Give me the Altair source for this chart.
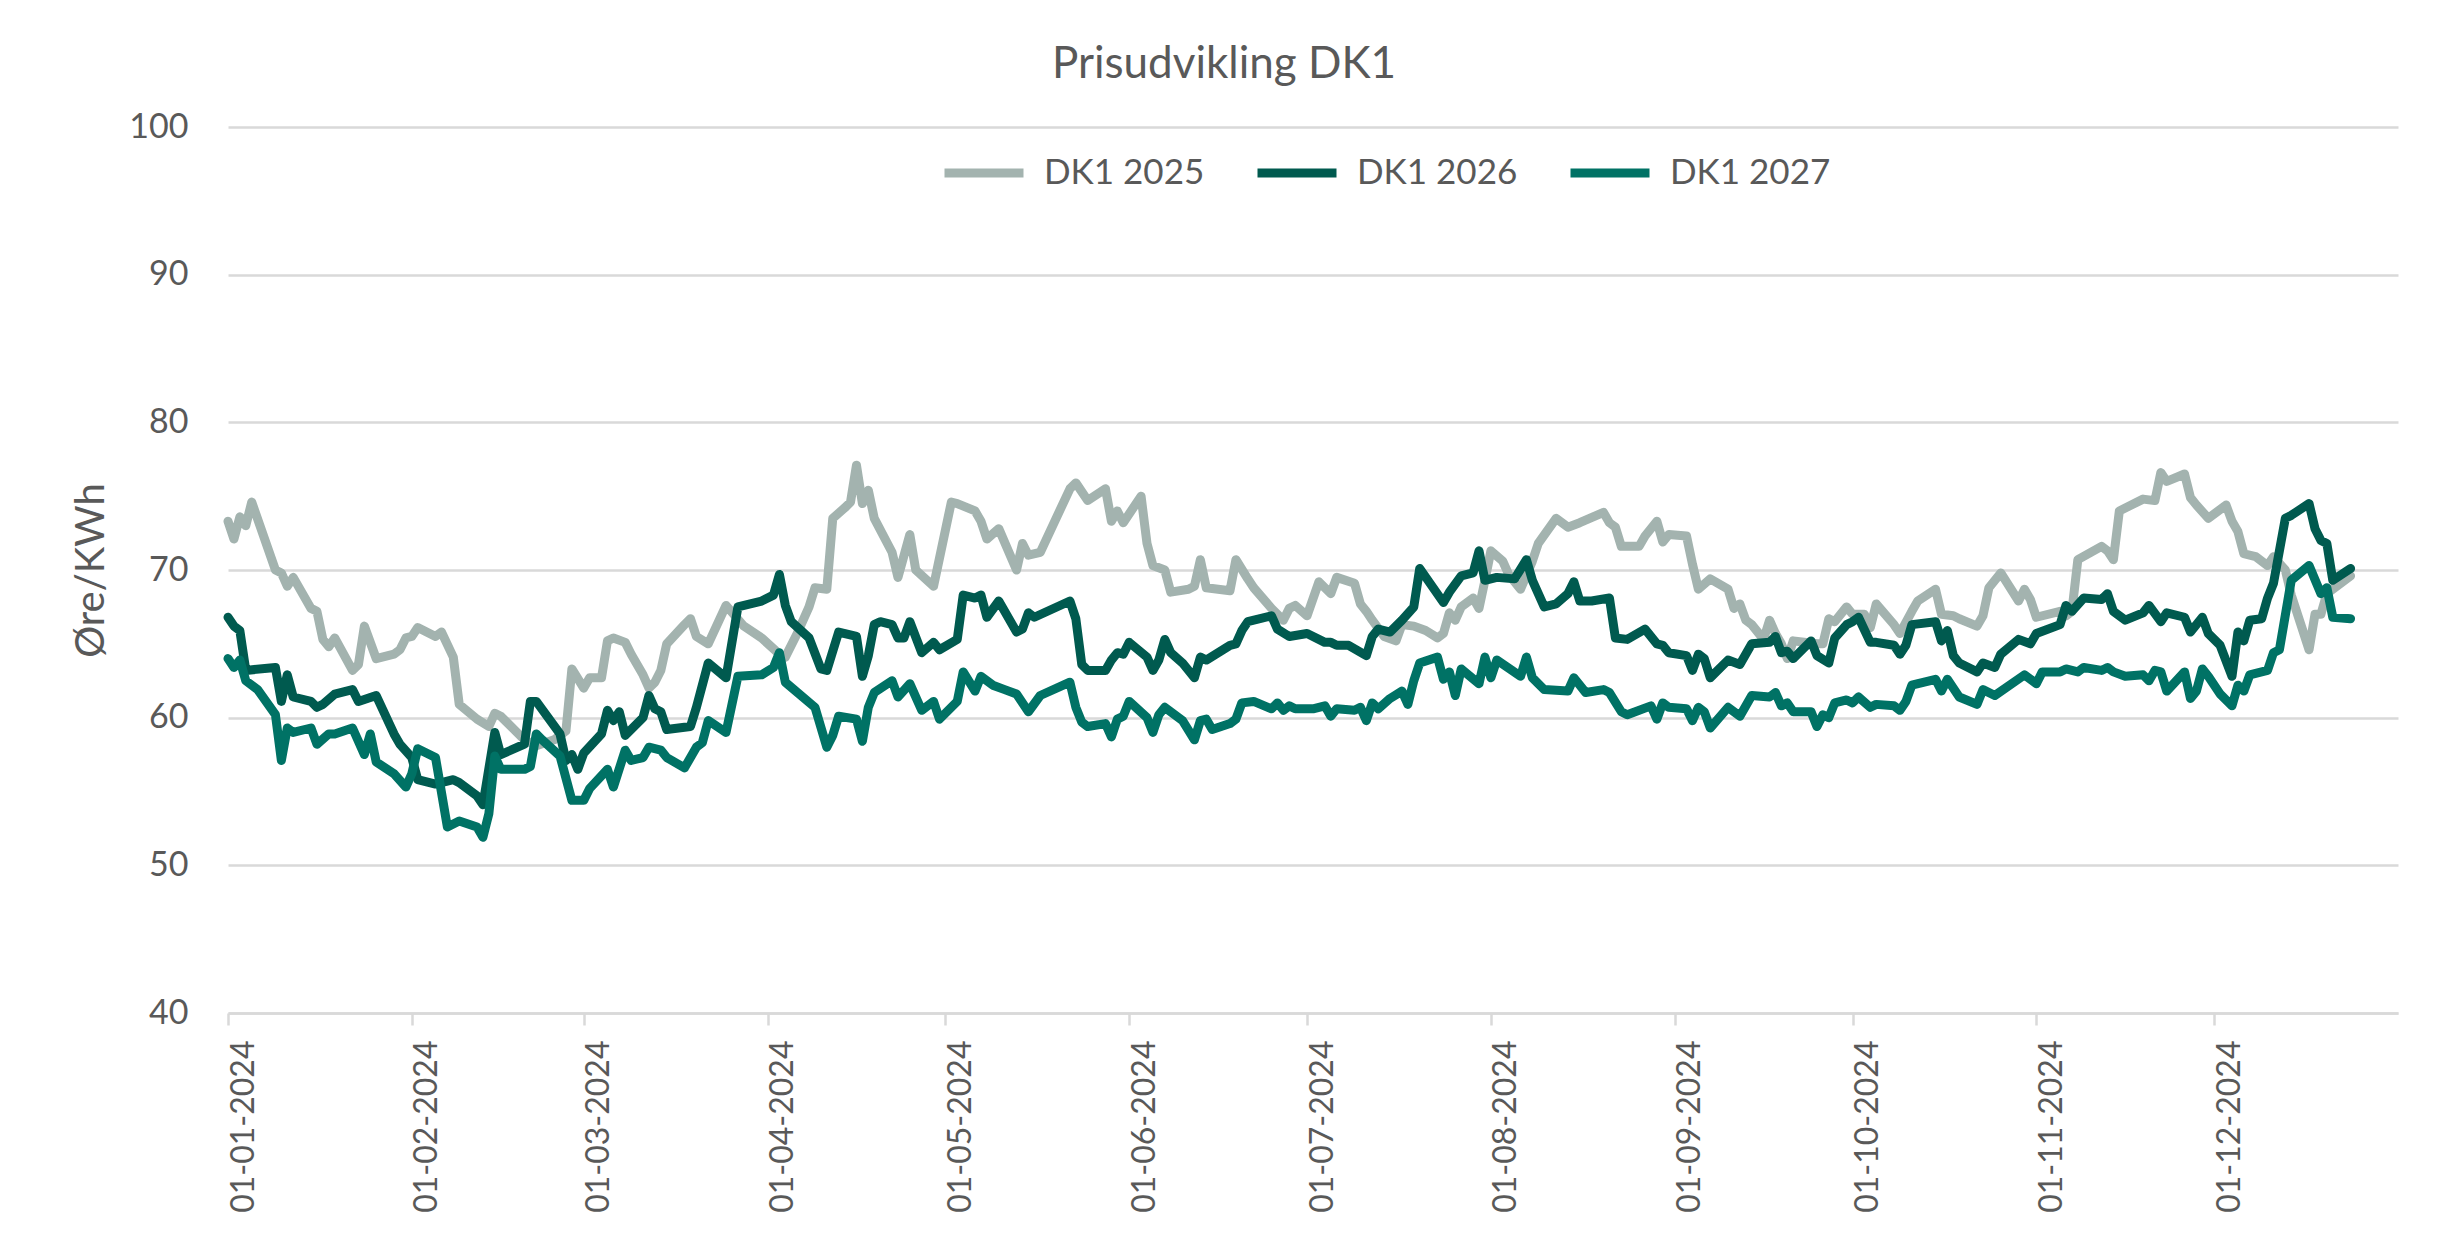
import altair as alt
import pandas as pd

# ---- data (day offset from 2024-01-01, price in øre/kWh) ----
names = ["DK1 2025", "DK1 2026", "DK1 2027"]
colors = ["#a3b3af", "#005a4f", "#007265"]

d25 = [0,1,2,3,4,8,9,10,11,14,15,16,17,18,21,22,23,25,28,29,30,31,32,35,36,38,39,42,44,45,
       46,50,52,55,57,58,60,61,63,64,65,67,68,70,71,72,73,74,77,78,79,81,84,87,
       90,93,94,96,98,99,101,102,104,105,106,107,108,109,112,113,115,116,119,122,123,126,127,128,130,133,134,135,
       137,142,143,145,148,149,150,151,154,155,156,158,159,162,163,164,165,169,170,172,173,176,178,179,180,182,
       184,186,187,190,191,192,193,195,197,198,200,202,204,205,206,207,208,210,211,212,213,215,216,218,220,221,224,226,
       228,232,233,234,235,238,239,241,242,243,246,247,248,250,253,254,255,256,257,259,260,261,262,263,264,268,269,270,271,
       273,274,276,277,278,281,282,284,285,288,289,291,292,295,296,297,299,302,303,304,305,309,310,311,312,316,317,318,319,
       320,323,325,326,327,330,331,332,334,337,338,339,340,342,344,345,347,348,351,352,353,354,358]
v25 = [73.3,72.1,73.6,73.0,74.6,70.0,69.8,68.9,69.5,67.4,67.2,65.3,64.8,65.4,63.2,63.6,66.2,64.0,64.3,64.6,65.4,65.5,66.1,65.5,65.8,64.1,60.9,59.9,59.4,60.3,
       60.1,58.5,58.1,58.5,59.1,63.3,62.0,62.7,62.7,65.2,65.4,65.1,64.3,62.9,62.0,62.4,63.2,65.0,66.3,66.7,65.5,65.0,67.6,66.2,
       65.4,64.3,64.1,65.7,67.5,68.8,68.7,73.5,74.2,74.6,77.1,74.5,75.4,73.5,71.2,69.5,72.4,70.0,68.9,74.6,74.5,74.0,73.3,72.1,72.8,70.0,71.8,71.0,
       71.2,75.5,75.9,74.7,75.5,73.3,74.0,73.2,75.0,71.8,70.3,70.0,68.5,68.7,68.9,70.7,68.8,68.6,70.7,69.4,68.8,67.4,66.6,67.4,67.6,66.9,
       69.2,68.4,69.5,69.1,67.7,67.2,66.6,65.5,65.2,66.3,66.2,65.9,65.4,65.7,67.1,66.6,67.5,68.1,67.4,69.3,71.3,70.6,69.7,68.7,70.6,71.8,73.5,72.9,
       73.2,73.9,73.2,72.9,71.6,71.6,72.3,73.3,71.9,72.4,72.3,70.4,68.7,69.4,68.7,67.4,67.7,66.6,66.3,65.3,66.6,65.7,65.0,64.0,65.2,65.0,65.0,66.7,66.5,
       67.5,67.0,67.0,66.1,67.7,66.3,65.7,67.2,67.9,68.7,67.0,66.9,66.7,66.2,66.9,68.8,69.8,67.9,68.7,68.0,66.8,67.2,66.9,67.2,70.7,71.6,71.3,70.7,74.0,
       74.2,74.8,74.7,76.6,76.0,76.5,74.9,74.4,73.5,74.4,73.3,72.6,71.1,70.9,70.3,70.9,70.0,68.3,64.6,67.0,67.0,68.4,69.6]

d26 = [0,1,2,3,8,9,10,11,14,15,16,18,21,22,25,28,29,31,32,35,38,39,42,43,45,
       46,50,51,52,56,57,58,59,60,63,64,65,66,67,70,71,72,73,74,78,79,81,84,86,
       90,92,93,94,95,98,100,101,103,106,107,108,109,110,112,113,114,115,117,119,120,123,124,126,127,128,130,133,134,135,
       136,142,143,144,145,148,149,150,151,152,155,156,157,158,159,161,163,164,165,169,170,171,172,176,177,179,182,
       185,186,187,189,192,193,194,196,198,200,201,205,206,208,210,211,212,214,217,219,220,222,224,226,227,
       228,230,233,234,236,239,241,242,243,246,247,248,249,250,253,255,257,260,261,262,263,264,267,268,270,271,273,
       274,275,277,278,281,282,283,284,288,289,290,291,292,295,296,298,299,302,304,305,309,310,311,313,316,317,
       318,320,323,324,326,327,330,331,333,334,336,338,339,340,341,343,344,345,347,348,351,352,353,354,355,358]
v26 = [66.8,66.2,65.9,63.2,63.4,61.1,62.9,61.4,61.1,60.7,60.9,61.6,61.9,61.1,61.5,58.9,58.2,57.3,55.8,55.5,55.8,55.6,54.7,54.1,59.0,
       57.5,58.2,61.1,61.1,58.9,57.1,57.5,56.5,57.6,58.9,60.5,59.8,60.4,58.8,60.0,61.5,60.6,60.4,59.2,59.4,60.7,63.7,62.7,67.5,
       67.9,68.3,69.7,67.6,66.5,65.4,63.3,63.2,65.8,65.5,62.8,64.2,66.3,66.5,66.3,65.4,65.4,66.5,64.4,65.1,64.6,65.3,68.3,68.1,68.3,66.8,67.9,65.8,66.0,67.1,
       66.8,67.9,66.7,63.6,63.2,63.2,63.9,64.4,64.3,65.1,64.1,63.2,63.9,65.3,64.4,63.7,62.7,64.1,63.9,64.9,65.0,65.9,66.5,66.9,66.0,65.5,65.7,
       65.1,65.1,64.9,64.9,64.2,65.5,66.0,65.8,66.6,67.5,70.1,67.8,68.5,69.6,69.8,71.3,69.3,69.5,69.4,70.7,69.3,67.5,67.7,68.4,69.2,
       67.9,67.9,68.1,65.4,65.3,66.0,65.0,64.9,64.4,64.2,63.2,64.3,64.0,62.7,63.9,63.6,65.0,65.1,65.5,64.4,64.5,64.0,65.2,64.2,63.7,65.4,66.3,
       66.5,66.8,65.1,65.1,64.9,64.3,64.9,66.3,66.5,65.2,65.9,64.2,63.7,63.1,63.7,63.4,64.3,65.3,65.0,65.7,66.3,67.6,67.2,68.1,68.0,68.4,
       67.2,66.6,67.1,67.6,66.5,67.1,66.8,65.8,66.8,65.7,64.9,62.8,65.8,65.2,66.6,66.7,68.1,69.1,73.5,73.7,74.5,72.8,72.0,71.8,69.3,70.1]

d27 = [0,1,2,3,5,8,9,10,11,14,15,17,18,21,23,24,25,28,30,31,32,35,37,39,42,43,44,45,
       46,50,51,52,53,56,58,60,61,64,65,67,68,70,71,73,74,77,79,80,81,84,86,
       90,92,93,94,99,101,102,103,106,107,108,109,112,113,115,117,119,120,123,124,126,127,129,131,133,135,
       137,142,143,144,145,148,149,150,151,152,155,156,157,158,161,163,164,165,166,169,170,171,173,176,177,178,179,180,182,
       183,185,186,187,190,191,192,193,194,196,198,199,200,201,204,205,206,207,208,211,212,213,214,218,219,220,222,226,227,
       229,232,233,235,236,240,241,242,243,246,247,248,249,250,253,255,257,260,261,262,263,264,267,268,269,270,271,273,
       274,275,277,278,281,282,283,284,288,289,290,292,295,296,298,303,305,306,309,310,312,313,316,317,318,
       320,323,324,325,326,327,330,331,332,333,334,336,338,339,340,341,344,345,346,348,351,353,354,355,358]
v27 = [64.0,63.4,63.9,62.5,61.9,60.2,57.1,59.3,59.0,59.3,58.2,58.9,58.9,59.3,57.5,58.9,57.0,56.2,55.3,56.2,57.9,57.3,52.6,53.0,52.6,51.9,53.5,57.4,
       56.5,56.5,56.7,58.9,58.5,57.4,54.4,54.4,55.2,56.5,55.3,57.8,57.1,57.3,58.0,57.8,57.3,56.6,58.0,58.3,59.8,59.0,62.8,
       62.9,63.4,64.4,62.4,60.7,58.0,58.8,60.1,59.9,58.4,60.7,61.7,62.5,61.4,62.3,60.5,61.1,59.9,61.1,63.1,61.8,62.8,62.2,61.9,61.6,60.4,
       61.5,62.4,60.7,59.7,59.4,59.6,58.7,59.9,60.1,61.1,60.0,59.0,60.2,60.7,59.8,58.5,59.8,59.9,59.2,59.6,59.9,61.0,61.1,60.6,61.0,60.5,60.8,60.6,60.6,
       60.6,60.8,60.1,60.6,60.5,60.7,59.8,61.0,60.6,61.3,61.8,60.9,62.5,63.7,64.1,62.6,63.1,61.5,63.3,62.3,64.1,62.7,63.9,62.8,64.1,62.7,61.9,61.8,62.7,
       61.7,61.9,61.7,60.4,60.2,60.8,59.9,61.0,60.7,60.6,59.8,60.7,60.4,59.3,60.7,60.1,61.5,61.4,61.7,60.8,61.0,60.4,60.4,59.4,60.2,60.0,61.0,61.2,
       61.0,61.4,60.7,60.9,60.8,60.5,61.1,62.2,62.6,61.8,62.6,61.4,60.9,61.9,61.5,62.9,62.3,63.1,63.1,63.3,63.1,63.4,63.2,63.4,63.1,
       62.8,62.9,62.5,63.2,63.1,61.8,63.1,61.3,61.8,63.3,62.8,61.6,60.8,62.2,61.8,62.9,63.2,64.4,64.6,69.3,70.3,68.4,68.8,66.8,66.7]

y_ticks = [40, 50, 60, 70, 80, 90, 100]
month_ticks = [alt.DateTime(year=2024, month=m, date=1) for m in range(1, 13)]

base = pd.Timestamp("2024-01-01")
rows = []
for name, ds, vs in zip(names, [d25, d26, d27], [v25, v26, v27]):
    for d, v in zip(ds, vs):
        rows.append({"dato": (base + pd.Timedelta(days=d)).strftime("%Y-%m-%dT00:00:00"),
                     "pris": v, "serie": name})
df = pd.DataFrame(rows)

FONT = "Lato"
TXT = "#595959"
GRID = "#d9d9d9"

chart = alt.Chart(df).mark_line(strokeWidth=9, strokeCap="round", strokeJoin="round").encode(
    x=alt.X("dato:T",
            scale=alt.Scale(domain=[alt.DateTime(year=2024, month=1, date=1),
                                    alt.DateTime(year=2025, month=1, date=1)], nice=False),
            axis=alt.Axis(values=month_ticks, format="%d-%m-%Y", labelAngle=270,
                          labelAlign="right", labelBaseline="top",
                          labelFont=FONT, labelFontSize=32, labelColor=TXT,
                          labelPadding=15, labelFlush=False, labelOverlap=False, labelBound=False,
                          grid=False, domain=True, domainColor=GRID, domainWidth=2.5,
                          ticks=True, tickColor=GRID, tickWidth=2.5, tickSize=12),
            title=None),
    y=alt.Y("pris:Q",
            scale=alt.Scale(domain=[40, 100], nice=False, zero=False),
            axis=alt.Axis(values=y_ticks, grid=True, gridColor=GRID, gridWidth=2.5,
                          domain=False, ticks=False, labelFont=FONT, labelFontSize=34,
                          labelColor=TXT, labelPadding=40,
                          titleFont=FONT, titleFontSize=40, titleFontWeight="normal",
                          titleColor=TXT, titleX=-137, titleY=443, titleAngle=270,
                          titleAlign="center", titleBaseline="middle"),
            title="Øre/KWh"),
    color=alt.Color("serie:N",
                    scale=alt.Scale(domain=names, range=colors),
                    legend=alt.Legend(title=None, orient="none", direction="horizontal",
                                      columns=3, legendX=712, legendY=2,
                                      symbolType="stroke", symbolSize=6241,
                                      symbolStrokeWidth=9, labelOffset=16, labelLimit=0,
                                      columnPadding=34, padding=0,
                                      labelFont=FONT, labelFontSize=35, labelColor=TXT)),
).properties(
    width=2170,
    height=886,
    title=alt.TitleParams("Prisudvikling DK1", font=FONT, fontSize=44, fontWeight="normal",
                          color=TXT, anchor="middle", dx=-89, dy=42, offset=30,
                          baseline="alphabetic"),
    padding={"left": 220, "top": 119, "right": 44, "bottom": 220},
    autosize=alt.AutoSizeParams(type="none"),
).configure_view(stroke=None)

chart.save("out.html", embed_options={"renderer": "svg", "actions": False})
